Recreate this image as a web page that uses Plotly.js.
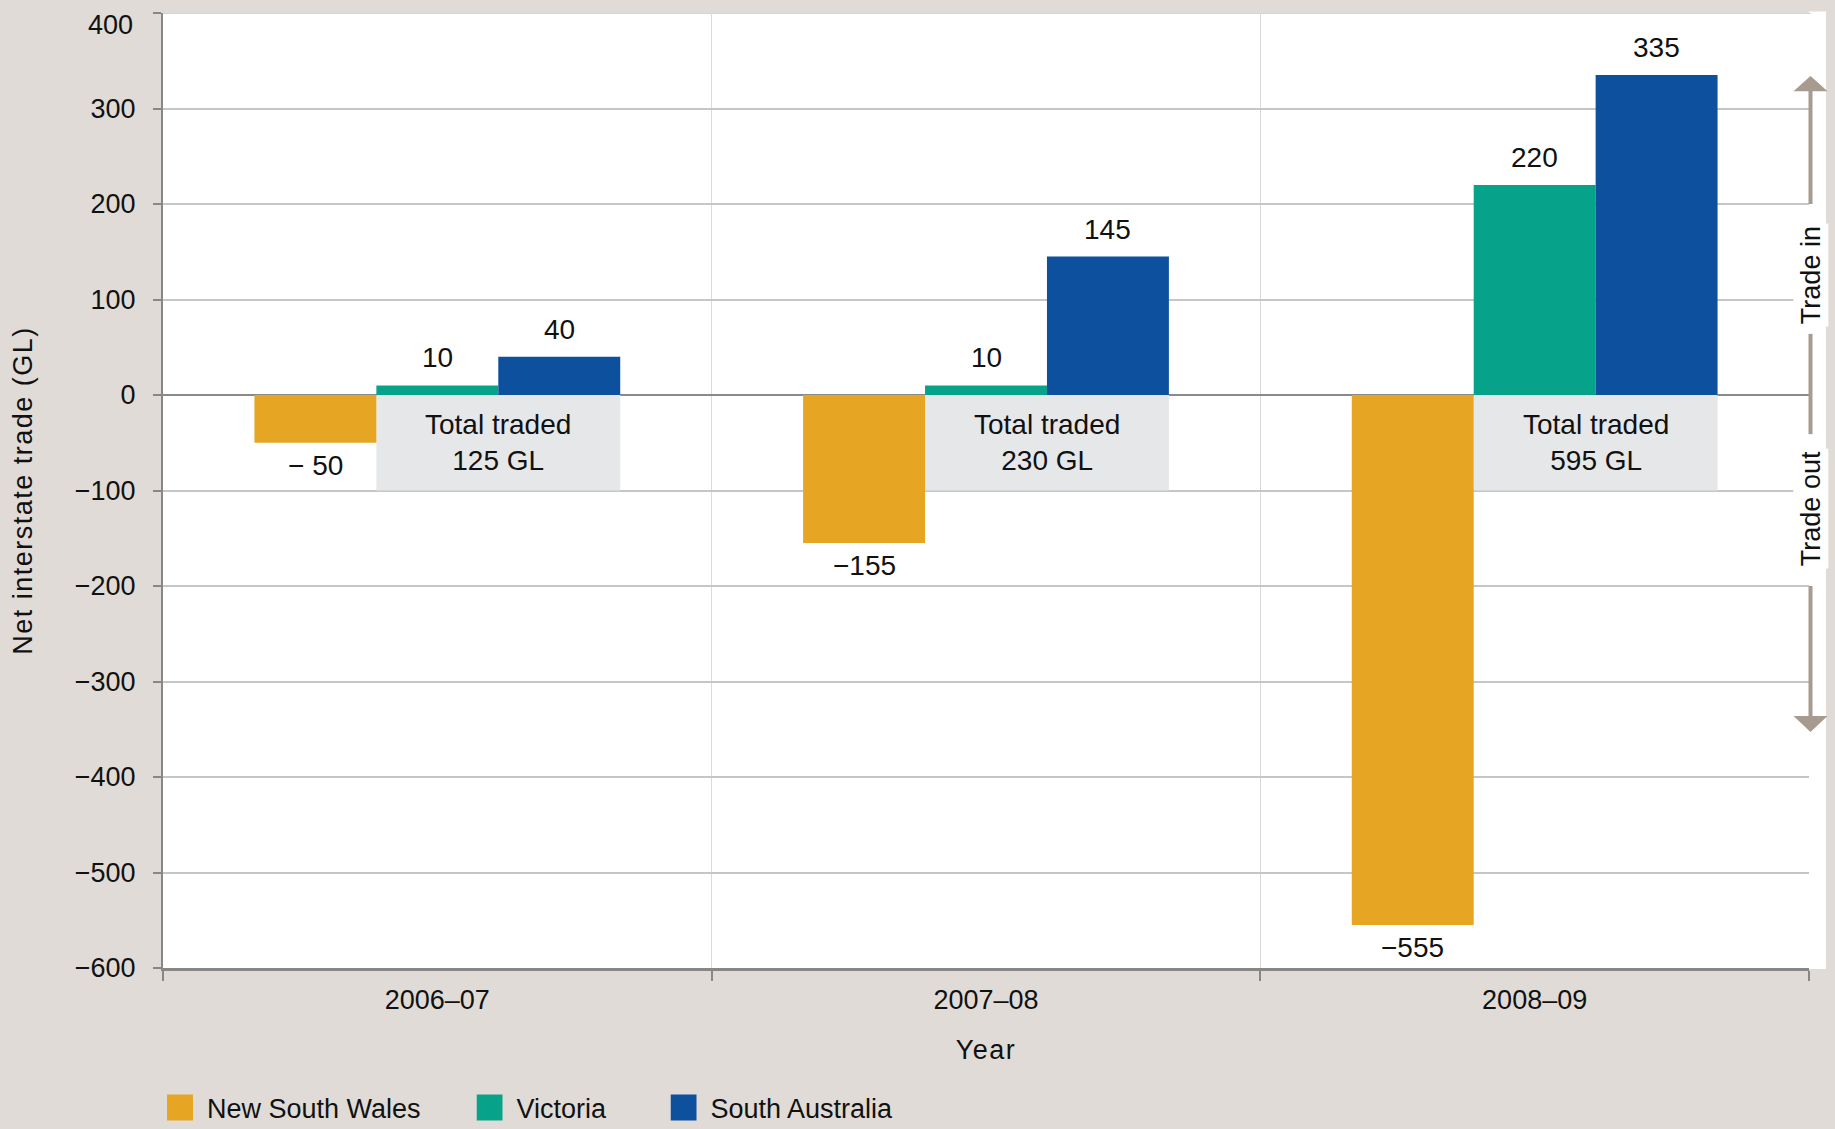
<!DOCTYPE html>
<html>
<head>
<meta charset="utf-8">
<script src="https://cdn.plot.ly/plotly-3.0.1.min.js"></script>
<style>
  html, body { margin: 0; padding: 0; background: #E0DBD6; }
  #chart .ytitle { letter-spacing: 1.5px; }
  #chart .xtitle { letter-spacing: 1.5px; }
</style>
</head>
<body>
<div id="chart" style="width:1835px;height:1129px;"></div>
<script>
// ---- data ----
const categories = ['2006–07', '2007–08', '2008–09'];
const seriesNames = ['New South Wales', 'Victoria', 'South Australia'];
const nswValues = [-50, -155, -555];
const vicValues = [10, 10, 220];
const saValues = [40, 145, 335];
const totalTraded = [125, 230, 595];
const yTickValues = [-600, -500, -400, -300, -200, -100, 0, 100, 200, 300, 400];

// ---- style ----
const colors = ['#E6A624', '#06A38A', '#0D509D'];
const FONT = '"Liberation Sans", Arial, sans-serif';
const INK = '#111111';
const AXIS = '#878787';
const ARROW = '#A79B8F';
const W = 1835, H = 1129;
const M = { l: 163, r: 26, t: 13, b: 161 };
const plotW = W - M.l - M.r;
const plotH = H - M.t - M.b;
const bargap = 1 / 3;
const nSeries = 3;
const barW = (1 - bargap) / nSeries;
const offsets = [-barW, 0, barW];
const legendIds = ['legend', 'legend2', 'legend3'];
const legendX = [167, 476.5, 670.5].map(px => (px - M.l) / plotW);

const allSeries = [nswValues, vicValues, saValues];
const traces = allSeries.map((vals, s) => ({
  type: 'bar',
  name: seriesNames[s],
  x: categories,
  y: vals,
  legend: legendIds[s],
  marker: { color: colors[s], line: { width: 0 } },
  hoverinfo: 'x+y+name'
}));

function fmt(v) { return v < 0 ? '\u2212' + Math.abs(v) : String(v); }

const yMax = yTickValues[yTickValues.length - 1];
const yMin = yTickValues[0];

const annotations = [];
allSeries.forEach((vals, s) => {
  vals.forEach((v, i) => {
    annotations.push({
      x: i + offsets[s], y: v, xref: 'x', yref: 'y',
      text: (s === 0 && i === 0) ? '\u2212 ' + Math.abs(v) : fmt(v),
      showarrow: false,
      xanchor: 'center',
      yanchor: v >= 0 ? 'bottom' : 'top',
      yshift: v >= 0 ? 10 : -5,
      font: { family: FONT, size: 28, color: INK }
    });
  });
});

// top tick label sits just below its tick, as in the source
annotations.push({
  x: 0, xref: 'paper', y: yMax, yref: 'y', text: fmt(yMax),
  showarrow: false, xanchor: 'right', yanchor: 'middle',
  xshift: -28, yshift: -12,
  font: { family: FONT, size: 27, color: INK }
});

const shapes = [];
// white extension of the plot area on the right
shapes.push({
  type: 'rect', xref: 'paper', yref: 'paper', layer: 'below',
  x0: 1, x1: 1 + 17 / plotW, y0: -0.001, y1: 1 + 1.5 / plotH,
  fillcolor: 'white', line: { width: 0 }
});
// top gridline
shapes.push({
  type: 'line', xref: 'paper', yref: 'y', layer: 'below',
  x0: 0, x1: 1 + 2 / plotW, y0: yMax, y1: yMax,
  line: { color: '#C6C6C6', width: 1.5 }
});
// "Total traded" boxes
totalTraded.forEach((t, i) => {
  shapes.push({
    type: 'rect', xref: 'x', yref: 'y', layer: 'between',
    x0: i + offsets[1] - barW / 2, x1: i + offsets[2] + barW / 2,
    y0: 0, y1: -100,
    fillcolor: '#E6E7E9', line: { width: 0 }
  });
  annotations.push({
    x: i + (offsets[1] + offsets[2]) / 2, y: -50, xref: 'x', yref: 'y',
    text: 'Total traded<br>' + t + ' GL', showarrow: false,
    xanchor: 'center', yanchor: 'middle',
    font: { family: FONT, size: 28, color: INK }
  });
});

// trade in / trade out arrows at the right edge
const ax = 1 + 1.5 / plotW;
const hd = 17 / plotW;
const lineStyle = { color: ARROW, width: 4 };
shapes.push({ type: 'line', xref: 'paper', yref: 'y', x0: ax, x1: ax, y0: 200, y1: 320, line: lineStyle });
shapes.push({ type: 'path', xref: 'paper', yref: 'y', path: `M${ax - hd},318 L${ax + hd},318 L${ax},334 Z`, fillcolor: ARROW, line: { width: 0 } });
shapes.push({ type: 'line', xref: 'paper', yref: 'y', x0: ax, x1: ax, y0: 64, y1: -41, line: lineStyle });
shapes.push({ type: 'line', xref: 'paper', yref: 'y', x0: ax, x1: ax, y0: -200, y1: -338, line: lineStyle });
shapes.push({ type: 'path', xref: 'paper', yref: 'y', path: `M${ax - hd},-336 L${ax + hd},-336 L${ax},-353 Z`, fillcolor: ARROW, line: { width: 0 } });

annotations.push({
  x: ax, y: 125, xref: 'paper', yref: 'y', text: 'Trade in', textangle: -90,
  xanchor: 'center', yanchor: 'middle',
  showarrow: false, bgcolor: 'white', borderpad: 2,
  font: { family: FONT, size: 27, color: INK }
});
annotations.push({
  x: ax, y: -119, xref: 'paper', yref: 'y', text: 'Trade out', textangle: -90,
  xanchor: 'center', yanchor: 'middle',
  showarrow: false, bgcolor: 'white', borderpad: 2,
  font: { family: FONT, size: 27, color: INK }
});

const legendBase = {
  orientation: 'h', xanchor: 'left', y: -0.1466, yanchor: 'middle',
  font: { family: FONT, size: 27, color: INK },
  bgcolor: 'rgba(0,0,0,0)', borderwidth: 0
};

const layout = {
  width: W, height: H,
  margin: { l: M.l, r: M.r, t: M.t, b: M.b, pad: 0, autoexpand: false },
  paper_bgcolor: '#E0DBD6',
  plot_bgcolor: 'white',
  font: { family: FONT, size: 27, color: INK },
  barmode: 'group',
  bargap: bargap,
  bargroupgap: 0,
  showlegend: true,
  legend: Object.assign({}, legendBase, { x: legendX[0] }),
  legend2: Object.assign({}, legendBase, { x: legendX[1] }),
  legend3: Object.assign({}, legendBase, { x: legendX[2] }),
  xaxis: {
    type: 'category',
    range: [-0.5, 2.5],
    tickson: 'boundaries',
    ticks: 'outside', ticklen: 10, tickwidth: 2, tickcolor: AXIS,
    ticklabelstandoff: 6,
    showline: true, linecolor: AXIS, linewidth: 3,
    showgrid: true, gridcolor: '#DADADA', gridwidth: 1,
    zeroline: false,
    tickfont: { family: FONT, size: 27, color: INK },
    title: { text: 'Year', standoff: 26, font: { family: FONT, size: 27, color: INK } },
    fixedrange: true
  },
  yaxis: {
    range: [yMin, yMax],
    tickvals: yTickValues,
    ticktext: yTickValues.map(v => v === yMax ? '' : fmt(v)),
    ticks: 'outside', ticklen: 8, tickwidth: 2, tickcolor: AXIS,
    ticklabelstandoff: 12,
    showline: true, linecolor: AXIS, linewidth: 2,
    showgrid: true, gridcolor: '#C6C6C6', gridwidth: 1.5,
    zeroline: true, zerolinecolor: '#8A8A8A', zerolinewidth: 2,
    tickfont: { family: FONT, size: 27, color: INK },
    title: { text: 'Net interstate trade (GL)', standoff: 34, font: { family: FONT, size: 27, color: INK } },
    fixedrange: true
  },
  shapes: shapes,
  annotations: annotations
};

Plotly.newPlot('chart', traces, layout, { displayModeBar: false, responsive: false }).then(gd => {
  document.querySelectorAll('#chart .legendpoints path').forEach(p => {
    p.setAttribute('d', 'M6,13H-20V-13H6Z');
  });
});
</script>
</body>
</html>
